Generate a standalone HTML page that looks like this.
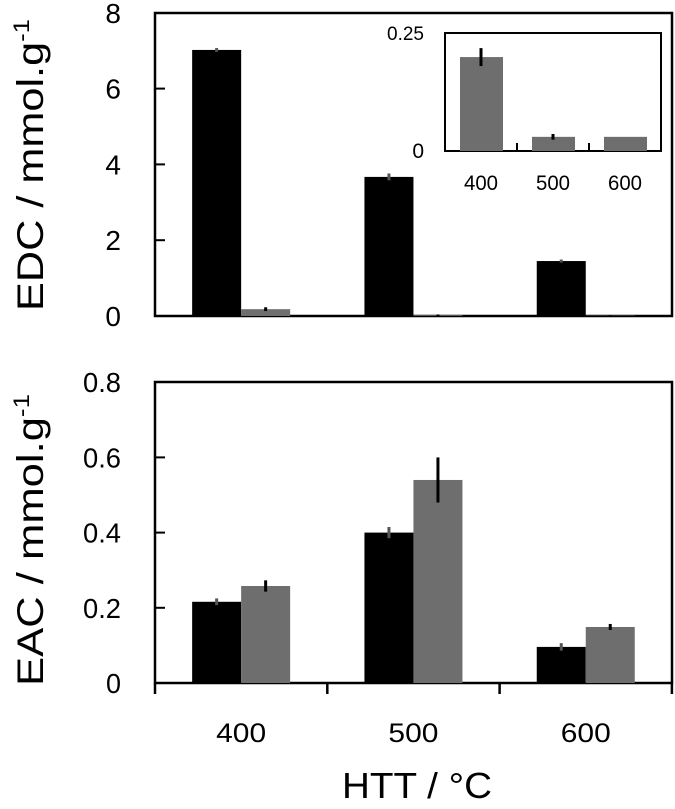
<!DOCTYPE html>
<html><head><meta charset="utf-8"><style>
body{margin:0;background:#fff}
svg{display:block;font-family:"Liberation Sans",sans-serif}
</style></head><body>
<svg id="c" width="675" height="809"></svg>
<script>
const categories=["400","500","600"];
const edcBlack=[7.02,3.67,1.45];
const edcBlackErr=[0.05,0.09,0.04];
const edcGray=[0.18,0.02,0.01];
const edcGrayErr=[0.05,0.02,0.005];
const insetGray=[0.199,0.03,0.03];
const insetErr=[0.019,0.006,0];
const eacBlack=[0.216,0.40,0.096];
const eacBlackErr=[0.009,0.015,0.01];
const eacGray=[0.258,0.54,0.149];
const eacGrayErr=[0.015,0.06,0.008];
const edcTicks=[0,2,4,6,8];
const eacTicks=[0,0.2,0.4,0.6,0.8];
const insetTicks=["0","0.25"];

const svg=document.getElementById('c');
const NS="http://www.w3.org/2000/svg";
function mk(t,a,name,txt){const e=document.createElementNS(NS,t);for(const k in a)e.setAttribute(k,a[k]);


if(txt!==undefined)e.textContent=txt;svg.appendChild(e);return e;}
const X0=155,XR=672,GW=172.3,BW=49;
const gx=i=>X0+GW*i+GW/2;
const yTop=v=>316-v*37.9;
const yBot=v=>683-v*376;
const yIn=v=>151-v*472;
function err(cx,y1,y2,col,name){mk('line',{x1:cx,x2:cx,y1:y1,y2:y2,stroke:col,'stroke-width':3},name);}
mk('rect',{x:X0,y:13,width:XR-X0,height:303,fill:'none',stroke:'#000','stroke-width':2.5},'edc-plot-frame');
mk('rect',{x:X0,y:382,width:XR-X0,height:301,fill:'none',stroke:'#000','stroke-width':2.5},'eac-plot-frame');
categories.forEach((c,i)=>{
 let x=gx(i);
 mk('rect',{x:x-BW,y:yTop(edcBlack[i]),width:BW,height:316-yTop(edcBlack[i]),fill:'#000'},'edc-bar-black-'+c);
 err(x-BW/2,yTop(edcBlack[i]+edcBlackErr[i]),yTop(edcBlack[i]-edcBlackErr[i]),'#555','edc-error-black-'+c);
 mk('rect',{x:x,y:yTop(edcGray[i]),width:BW,height:316-yTop(edcGray[i]),fill:'#6e6e6e'},'edc-bar-gray-'+c);
 err(x+BW/2,yTop(edcGray[i]+edcGrayErr[i]),yTop(edcGray[i]-edcGrayErr[i]),'#000','edc-error-gray-'+c);
 mk('rect',{x:x-BW,y:yBot(eacBlack[i]),width:BW,height:683-yBot(eacBlack[i]),fill:'#000'},'eac-bar-black-'+c);
 err(x-BW/2,yBot(eacBlack[i]+eacBlackErr[i]),yBot(eacBlack[i]-eacBlackErr[i]),'#555','eac-error-black-'+c);
 mk('rect',{x:x,y:yBot(eacGray[i]),width:BW,height:683-yBot(eacGray[i]),fill:'#6e6e6e'},'eac-bar-gray-'+c);
 err(x+BW/2,yBot(eacGray[i]+eacGrayErr[i]),yBot(eacGray[i]-eacGrayErr[i]),'#000','eac-error-gray-'+c);
 mk('text',{x:x,y:742,'font-size':27,'text-anchor':'middle',textLength:50,lengthAdjust:'spacingAndGlyphs'},'x-tick-label-'+c,c);
});
for(let k=0;k<=3;k++)mk('line',{x1:X0+GW*k,x2:X0+GW*k,y1:683,y2:694,stroke:'#000','stroke-width':2.5},'x-tick');
edcTicks.forEach(t=>{
 if(t>0&&t<8)mk('line',{x1:X0,x2:X0+10,y1:yTop(t),y2:yTop(t),stroke:'#000','stroke-width':2},'edc-y-tick');
 mk('text',{x:121,y:yTop(t)+10,'font-size':28,'text-anchor':'end'},'edc-y-tick-label',String(t));
});
const t1=mk('text',{x:0,y:0,'font-size':37,'text-anchor':'middle',transform:'translate(43,165) rotate(-90)',textLength:292,lengthAdjust:'spacingAndGlyphs'},'edc-y-axis-title','EDC / mmol.g');
const s1=document.createElementNS(NS,'tspan');s1.setAttribute('dy',-14);s1.setAttribute('font-size',22);s1.textContent='-1';t1.appendChild(s1);
eacTicks.forEach(t=>{
 if(t>0&&t<0.8)mk('line',{x1:X0,x2:X0+10,y1:yBot(t),y2:yBot(t),stroke:'#000','stroke-width':2},'eac-y-tick');
 mk('text',{x:121,y:yBot(t)+10,'font-size':28,'text-anchor':'end',textLength:t===0?15:38,lengthAdjust:'spacingAndGlyphs'},'eac-y-tick-label',t===0?'0':t.toFixed(1));
});
const t2=mk('text',{x:0,y:0,'font-size':37,'text-anchor':'middle',transform:'translate(43,540) rotate(-90)',textLength:292,lengthAdjust:'spacingAndGlyphs'},'eac-y-axis-title','EAC / mmol.g');
const s2=document.createElementNS(NS,'tspan');s2.setAttribute('dy',-14);s2.setAttribute('font-size',22);s2.textContent='-1';t2.appendChild(s2);
mk('text',{x:417,y:798,'font-size':36,'text-anchor':'middle',textLength:150,lengthAdjust:'spacingAndGlyphs'},'x-axis-title','HTT / °C');
mk('rect',{x:445,y:33,width:216,height:118,fill:'#fff',stroke:'#000','stroke-width':2},'inset-frame');
categories.forEach((c,i)=>{
 let cx=445+72*i+36;
 mk('rect',{x:cx-21,y:yIn(insetGray[i]),width:43,height:151-yIn(insetGray[i]),fill:'#6e6e6e'},'inset-bar-'+c);
 if(insetErr[i]>0)err(cx,yIn(insetGray[i]+insetErr[i]),yIn(insetGray[i]-insetErr[i]),'#000','inset-error-'+c);
 mk('text',{x:cx,y:190,'font-size':21,'text-anchor':'middle',textLength:34,lengthAdjust:'spacingAndGlyphs'},'inset-x-label-'+c,c);
 if(i>0)mk('line',{x1:445+72*i,x2:445+72*i,y1:143,y2:151,stroke:'#000','stroke-width':2},'inset-x-tick');
});
mk('text',{x:424,y:40,'font-size':19,'text-anchor':'end'},'inset-y-label-max',insetTicks[1]);
mk('text',{x:424,y:158,'font-size':21,'text-anchor':'end'},'inset-y-label-zero',insetTicks[0]);
</script>
</body></html>
